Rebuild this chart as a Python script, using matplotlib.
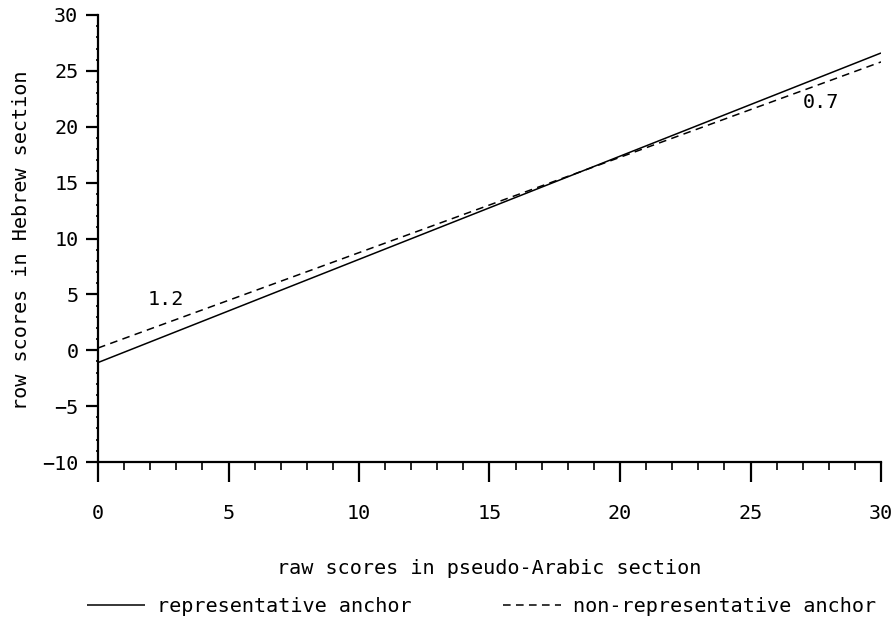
import matplotlib
matplotlib.use("Agg")
import matplotlib.pyplot as plt
from matplotlib.ticker import MultipleLocator

plt.rcParams['font.family'] = ['DejaVu Sans Mono', 'DejaVu Sans']

# data
x_vals = [0, 30]
representative = [-1.1, 26.6]
non_representative = [0.2, 25.8]
slope_labels = ["1.2", "0.7"]
label_pos_x = [2.6, 27.7]
label_pos_y = [4.5, 22.2]
xticks = [0, 5, 10, 15, 20, 25, 30]
yticks = [-10, -5, 0, 5, 10, 15, 20, 25, 30]

W, H = 894, 626
fig = plt.figure(figsize=(W / 100, H / 100), dpi=100)
ax = fig.add_axes([98 / W, 1 - 462 / H, 783 / W, 447 / H])

fs = 14.5
l1, = ax.plot(x_vals, representative, color='black', lw=1.1, solid_capstyle='butt')
l2, = ax.plot(x_vals, non_representative, color='black', lw=1.1, dashes=(5, 3.5))

for t, px, py in zip(slope_labels, label_pos_x, label_pos_y):
    ax.text(px, py, t, ha='center', va='center', fontsize=fs)

ax.set_xlim(0, 30)
ax.set_ylim(-10, 30)
ax.set_xticks(xticks)
ax.set_yticks(yticks)
ax.xaxis.set_minor_locator(MultipleLocator(1))
ax.yaxis.set_minor_locator(MultipleLocator(1))

for s in ['top', 'right']:
    ax.spines[s].set_visible(False)
for s in ['left', 'bottom']:
    ax.spines[s].set_linewidth(1.6)

ax.tick_params(axis='x', which='major', direction='out', length=14.4, width=1.6,
               pad=16, labelsize=fs)
ax.tick_params(axis='x', which='minor', direction='out', length=5.5, width=1.2)
ax.tick_params(axis='y', which='major', direction='out', length=8.6, width=1.6,
               pad=5.5, labelsize=fs)
ax.tick_params(axis='y', which='minor', direction='out', length=1.5, width=1.2)

fig.text(22 / W, 1 - 240 / H, "row scores in Hebrew section", rotation=90,
         ha='center', va='center', fontsize=fs)
fig.text(489 / W, 1 - 568 / H, "raw scores in pseudo-Arabic section",
         ha='center', va='center', fontsize=fs)

leg = fig.legend([l1, l2], ["representative anchor", "non-representative anchor"],
                 loc='center left', bbox_to_anchor=(87 / W, 1 - 607 / H),
                 ncol=2, frameon=False, borderpad=0, borderaxespad=0,
                 handlelength=2.9, handletextpad=0.6, columnspacing=4.5,
                 fontsize=fs)

fig.savefig("out.png", dpi=100, facecolor='white')
